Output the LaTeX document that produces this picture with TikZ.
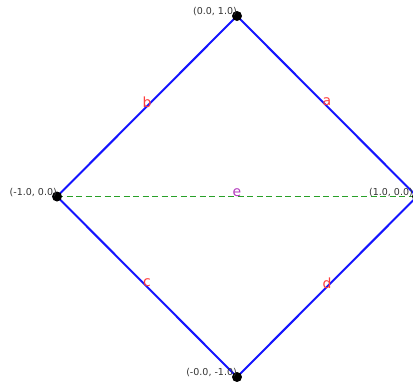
\documentclass[tikz,border=0pt]{standalone}
\usepackage{fontspec}
\setmainfont{DejaVu Sans}
\begin{document}
\begin{tikzpicture}[x=1pt,y=-1pt,
  vert/.style={circle,fill=black,inner sep=0pt,minimum size=10pt},
  coordlbl/.style={anchor=south east,inner sep=0pt,font=\fontsize{9.5}{10}\selectfont,text=black!80},
  edgelbl/.style={font=\fontsize{14}{15}\selectfont,text={rgb,255:red,255;green,60;blue,60},inner sep=0pt},
  blueedge/.style={draw={rgb,255:red,20;green,20;blue,255},line width=2pt},
  greenedge/.style={draw={rgb,255:red,40;green,160;blue,40},line width=1.6pt,dash pattern=on 6pt off 3.5pt}]
\useasboundingbox (0,0) rectangle (413,381);
\coordinate (T) at (237,16);
\coordinate (L) at (57,196.5);
\coordinate (R) at (417,196.5);
\coordinate (B) at (237,377);
\coordinate (Rl) at (413,196.5);
\draw[blueedge] (T) -- (R) -- (B) -- (L) -- cycle;
\draw[greenedge] (L) -- (R);
\node[vert] (t) at (T) {};
\node[vert] (l) at (L) {};
\node[vert] (r) at (R) {};
\node[vert] (b) at (B) {};
\node[coordlbl] at (T) {(0.0, 1.0)};
\node[coordlbl] at (L) {(-1.0, 0.0)};
\node[coordlbl] at (Rl) {(1.0, 0.0)};
\node[coordlbl] at (B) {(-0.0, -1.0)};
\node[edgelbl] (la) at (327,102) {a};
\node[edgelbl] (lb) at (147,102) {b};
\node[edgelbl] (lc) at (147,283) {c};
\node[edgelbl] (ld) at (327,283) {d};
\node[edgelbl,text={rgb,255:red,180;green,60;blue,190}] (le) at (237,193) {e};
\end{tikzpicture}
\end{document}
